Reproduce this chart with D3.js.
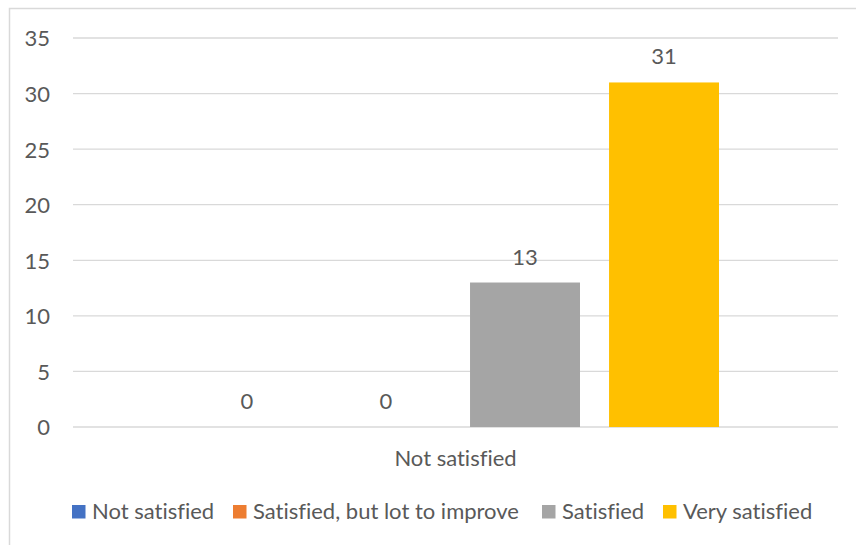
<!DOCTYPE html>
<html>
<head>
<meta charset="utf-8">
<script src="https://cdn.jsdelivr.net/npm/d3@7/dist/d3.min.js"></script>
<style>
  html, body { margin: 0; padding: 0; background: #fff; }
  svg { display: block; }
  text { font-family: Lato, "Open Sans", sans-serif; fill: #595959; font-variant-ligatures: none; }
</style>
</head>
<body>
<svg id="chart" width="856" height="545"></svg>
<script>
// Survey responses, one category with four answer series
const categories = ["Not satisfied"];
const seriesNames = ["Not satisfied", "Satisfied, but lot to improve", "Satisfied", "Very satisfied"];
const seriesValues = [0, 0, 13, 31];
const seriesColors = ["#4472C4", "#ED7D31", "#A5A5A5", "#FFC000"];
const yTicks = [0, 5, 10, 15, 20, 25, 30, 35];

const svg = d3.select("#chart");
const W = 856, H = 545;
const FS = 22;

// Chart area frame
svg.append("rect")
  .attr("x", 9.5).attr("y", 8.5)
  .attr("width", W + 10).attr("height", H + 10)
  .attr("fill", "#fff").attr("stroke", "#D9D9D9").attr("stroke-width", 1.5);

const plot = { left: 73, right: 838, top: 38, bottom: 427 };

const y = d3.scaleLinear().domain([0, 35]).range([plot.bottom, plot.top]);
const x0 = d3.scaleBand().domain(categories).range([plot.left, plot.right])
  .paddingInner(0).paddingOuter(0.2258);
const x1 = d3.scaleBand().domain(seriesNames).range([0, x0.bandwidth()])
  .paddingInner(0.209).paddingOuter(0);

// Horizontal gridlines
svg.append("g")
  .selectAll("line").data(yTicks).join("line")
  .attr("x1", plot.left).attr("x2", plot.right)
  .attr("y1", d => y(d)).attr("y2", d => y(d))
  .attr("stroke", "#D9D9D9").attr("stroke-width", 1.3);

// Y axis labels
const yAxis = d3.axisLeft(y).tickValues(yTicks).tickSize(0).tickPadding(0);
const yg = svg.append("g").attr("transform", `translate(50,0)`).call(yAxis);
yg.select(".domain").remove();
yg.selectAll("text")
  .attr("font-size", FS)
  .style("font-family", "Lato, 'Open Sans', sans-serif")
  .attr("fill", "#595959")
  .attr("dy", "0.36em");

// Category axis label
svg.append("g")
  .selectAll("text").data(categories).join("text")
  .attr("x", d => x0(d) + x0.bandwidth() / 2)
  .attr("y", 466)
  .attr("text-anchor", "middle")
  .attr("font-size", FS)
  .text(d => d);

// Bars
const barData = seriesNames.map((name, i) => ({ cat: categories[0], name, value: seriesValues[i], color: seriesColors[i] }));
const bars = svg.append("g");
bars.selectAll("rect").data(barData).join("rect")
  .attr("x", d => x0(d.cat) + x1(d.name))
  .attr("y", d => y(d.value))
  .attr("width", x1.bandwidth())
  .attr("height", d => y(0) - y(d.value))
  .attr("fill", d => d.color);

// Value labels
bars.selectAll("text").data(barData).join("text")
  .attr("x", d => x0(d.cat) + x1(d.name) + x1.bandwidth() / 2)
  .attr("y", d => y(d.value) - 18)
  .attr("text-anchor", "middle")
  .attr("font-size", FS)
  .text(d => d.value);

// Legend
const legendX = [72, 233, 542, 663];
const legend = svg.append("g");
const items = legend.selectAll("g").data(barData).join("g")
  .attr("transform", (d, i) => `translate(${legendX[i]},505)`);
items.append("rect").attr("width", 13.5).attr("height", 13.5).attr("fill", d => d.color);
items.append("text").attr("x", 20).attr("y", 14)
  .attr("font-size", FS).text(d => d.name);
</script>
</body>
</html>
